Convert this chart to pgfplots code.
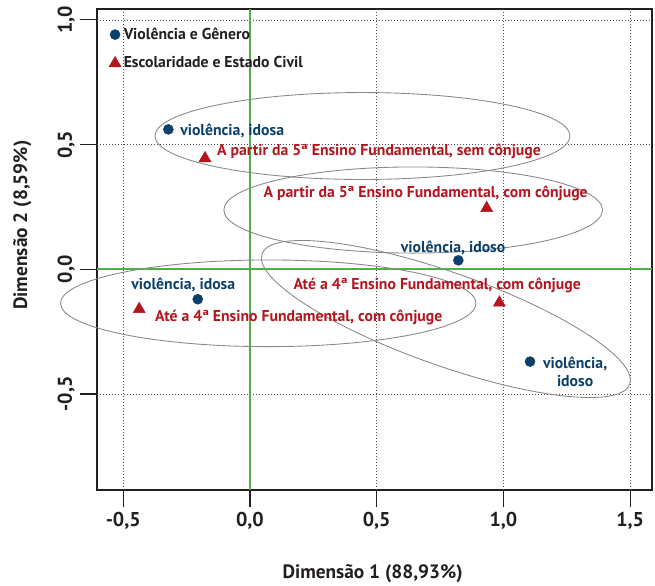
\documentclass[border=0pt]{standalone}
\usepackage{pgfplots}
\pgfplotsset{compat=1.18}
\usepackage{fontspec}
\setmainfont{PT Sans}
\definecolor{myblue}{RGB}{12,64,106}
\definecolor{myred}{RGB}{180,22,32}
\definecolor{mygreen}{RGB}{80,175,72}
\definecolor{mygray}{RGB}{135,135,135}
\definecolor{txt}{RGB}{35,31,32}
\newcommand{\lblfont}{\bfseries\fontsize{11.8}{13}\selectfont}
\pgfplotsset{gridline/.style={txt!80, line width=0.55pt, dash pattern=on 0.55pt off 1.7pt, forget plot}}
\begin{document}
\begin{tikzpicture}
\begin{axis}[
  scale only axis, width=416pt, height=360.5pt,
  xmin=-0.6036, xmax=1.585, ymin=-0.885, ymax=1.0425,
  clip=false,
  axis line style={line width=1.5pt, txt},
  xtick={-0.5,0,0.5,1,1.5}, xticklabels={{-0,5},{0,0},{0,5},{1,0},{1,5}},
  ytick={-0.5,0,0.5,1}, yticklabels={{-0,5},{0,0},{0,5},{1,0}},
  xtick pos=left, ytick pos=left,
  tick align=outside, major tick length=13pt,
  tick style={line width=0.8pt, txt},
  ticklabel style={font=\bfseries\fontsize{15}{17}\selectfont, txt},
  yticklabel style={rotate=90, anchor=south},
  xlabel={Dimensão 1 (88,93\%)}, ylabel={Dimensão 2 (8,59\%)},
  label style={font=\bfseries\fontsize{14.5}{17}\selectfont, txt},
  xlabel style={at={(axis description cs:0.497,-0.185)}, anchor=base},
  ylabel style={at={(axis description cs:-0.1258,0.551)}, anchor=base},
  legend style={draw=none, fill=none, inner sep=0pt, row sep=7.5pt,
    font=\lblfont, text=txt, at={(axis cs:-0.557,0.98)}, anchor=north west},
  legend cell align=left,
  legend image code/.code={\draw[#1] plot coordinates {(0pt,0pt)};},
]
% dotted grid (not at zero)
\addplot[gridline] coordinates {(-0.5,-0.885) (-0.5,1.0425)};
\addplot[gridline] coordinates {(0.5,-0.885) (0.5,1.0425)};
\addplot[gridline] coordinates {(1.0,-0.885) (1.0,1.0425)};
\addplot[gridline] coordinates {(1.5,-0.885) (1.5,1.0425)};
\addplot[gridline] coordinates {(-0.6036,-0.5) (1.585,-0.5)};
\addplot[gridline] coordinates {(-0.6036,0.5) (1.585,0.5)};
\addplot[gridline] coordinates {(-0.6036,1.0) (1.585,1.0)};
% green reference lines
\addplot[mygreen, line width=1.3pt, forget plot] coordinates {(0,-0.885) (0,1.0425)};
\addplot[mygreen, line width=1.3pt, forget plot] coordinates {(-0.6036,0) (1.585,0)};

% confidence ellipses
\draw[mygray, line width=0.65pt] (axis cs:0.4438,0.5345) ellipse [x radius=155.6pt, y radius=32.6pt];
\draw[mygray, line width=0.65pt] (axis cs:0.644,0.2378) ellipse [x radius=142pt, y radius=32.3pt];
\draw[mygray, line width=0.65pt, rotate around={-19.5:(axis cs:0.773,-0.1993)}] (axis cs:0.773,-0.1993) ellipse [x radius=146.3pt, y radius=34.9pt];
\draw[mygray, line width=0.65pt] (axis cs:0.0722,-0.1363) ellipse [x radius=155.8pt, y radius=32.5pt];

% points
\addplot[only marks, mark=*, mark size=3.75pt, myblue] coordinates {
  (-0.322,0.561) (-0.206,-0.120) (0.822,0.036) (1.105,-0.370)};
\addlegendentry{Violência e Gênero}
\addplot[only marks, mark=triangle*, mark size=5.2pt, myred] coordinates {
  (-0.1775,0.445) (0.934,0.245) (0.984,-0.134) (-0.437,-0.160)};
\addlegendentry{Escolaridade e Estado Civil}

% labels
\begin{scope}[every node/.style={inner sep=0pt, font=\lblfont}]
\node[anchor=base west, text=myblue] at (axis cs:-0.276,0.5385) {violência, idosa};
\node[anchor=base west, text=myred] at (axis cs:-0.131,0.458) {A partir da 5ª Ensino Fundamental, sem cônjuge};
\node[anchor=base west, text=myred] at (axis cs:0.0525,0.287) {A partir da 5ª Ensino Fundamental, com cônjuge};
\node[anchor=base west, text=myblue] at (axis cs:0.5945,0.068) {violência, idoso};
\node[anchor=base west, text=myred] at (axis cs:0.171,-0.080) {Até a 4ª Ensino Fundamental, com cônjuge};
\node[anchor=base west, text=myblue] at (axis cs:-0.469,-0.080) {violência, idosa};
\node[anchor=base west, text=myred] at (axis cs:-0.375,-0.210) {Até a 4ª Ensino Fundamental, com cônjuge};
\node[anchor=base, text=myblue] at (axis cs:1.283,-0.397) {violência,};
\node[anchor=base, text=myblue] at (axis cs:1.283,-0.4707) {idoso};
\end{scope}
\end{axis}
\pgfresetboundingbox
\path ([shift={(-72.75pt,-71.25pt)}]current axis.south west) rectangle ([shift={(2.5pt,7pt)}]current axis.north east);
\end{tikzpicture}
\end{document}
